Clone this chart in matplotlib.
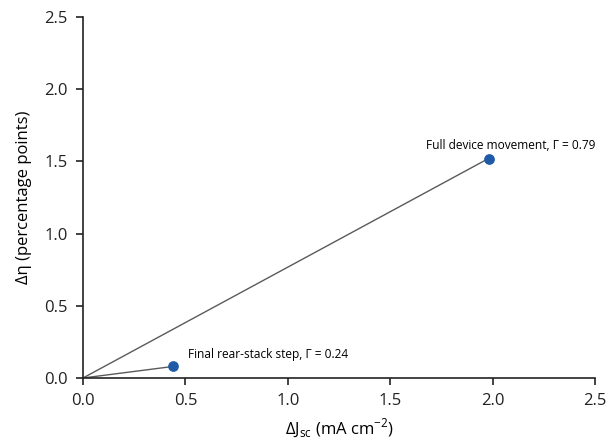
import matplotlib
matplotlib.use("Agg")
import matplotlib.pyplot as plt

plt.rcParams['font.family'] = ['Open Sans', 'DejaVu Sans']
plt.rcParams['mathtext.fontset'] = 'custom'
plt.rcParams['mathtext.rm'] = 'Open Sans'

labels = ["Final rear-stack step, Γ = 0.24", "Full device movement, Γ = 0.79"]
delta_jsc = [0.44, 1.98]
delta_eta = [0.08, 1.52]
ticks = [0.0, 0.5, 1.0, 1.5, 2.0, 2.5]

fig = plt.figure(figsize=(6.06, 4.38), dpi=100)
ax = fig.add_axes([83/606, 1-378/438, (595-83)/606, (378-17)/438])

for x, y in zip(delta_jsc, delta_eta):
    ax.plot([0, x], [0, y], color='#5a5a5a', lw=1.0, zorder=2)
ax.scatter(delta_jsc, delta_eta, s=45, color='#1f5aa6', zorder=3)

ax.annotate(labels[0], (delta_jsc[0], delta_eta[0]), xytext=(11, 6),
            textcoords='offset points', ha='left', va='baseline', fontsize=8.6)
ax.annotate(labels[1], (delta_jsc[1], delta_eta[1]), xytext=(16, 6.5),
            textcoords='offset points', ha='center', va='baseline', fontsize=8.6)

ax.set_xlim(0, 2.5)
ax.set_ylim(0, 2.5)
ax.set_xticks(ticks)
ax.set_yticks(ticks)
ax.set_xticklabels([f"{t:.1f}" for t in ticks])
ax.set_yticklabels([f"{t:.1f}" for t in ticks])
for s in ['top', 'right']:
    ax.spines[s].set_visible(False)
for s in ['left', 'bottom']:
    ax.spines[s].set_linewidth(1.2)
    ax.spines[s].set_color('#222222')
ax.tick_params(direction='out', length=5, width=1.2, labelsize=12, colors='#222222', pad=6)
ax.set_xlabel(r"ΔJ$_\mathregular{sc}$ (mA cm$^\mathregular{-2}$)", fontsize=12, labelpad=5)
ax.set_ylabel("Δη (percentage points)", fontsize=12, labelpad=9)

fig.savefig("out.png", dpi=100)
